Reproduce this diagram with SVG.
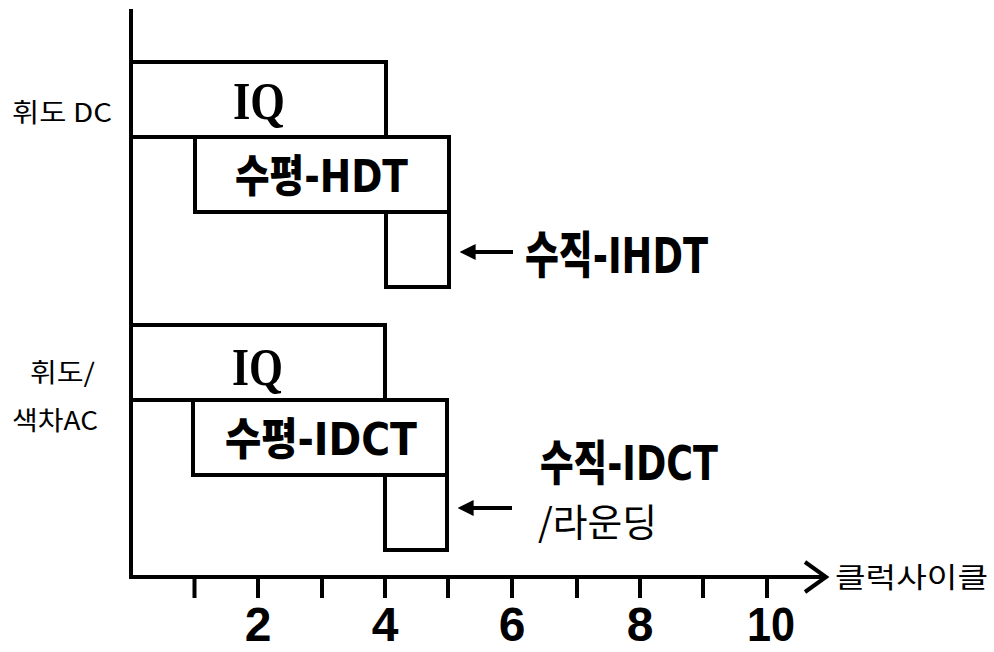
<svg xmlns="http://www.w3.org/2000/svg" width="994" height="652" viewBox="0 0 994 652">
<style>
.box{fill:none;stroke:#000;stroke-width:4}
.ln{stroke:#000;stroke-width:4;fill:none}
.lb{font-family:"DejaVu Sans","Noto Sans CJK KR",sans-serif;font-weight:900;fill:#000}
.sr{font-family:"Liberation Serif","DejaVu Serif",serif;font-weight:bold;fill:#000}
.th{font-family:"Noto Sans CJK KR","Liberation Sans",sans-serif;font-weight:normal;fill:#000}
.num{font-family:"Liberation Sans",sans-serif;font-weight:bold;font-size:48px;text-anchor:middle;fill:#000}
</style>
<defs>
<marker id="ah" viewBox="0 0 10 10" refX="1" refY="5" markerWidth="4" markerHeight="4" orient="auto-start-reverse" markerUnits="strokeWidth">
<path d="M0,0 L10,5 L0,10 z" fill="#000"/>
</marker>
</defs>
<g id="axes">
<line class="ln" x1="131" y1="9" x2="131" y2="579"/>
<line class="ln" x1="129" y1="577" x2="826" y2="577"/>
<polyline class="ln" points="805,562 826,577 805,592"/>
<g class="ln">
<line x1="194.5" y1="577" x2="194.5" y2="598"/>
<line x1="258" y1="577" x2="258" y2="598"/>
<line x1="322" y1="577" x2="322" y2="598"/>
<line x1="385" y1="577" x2="385" y2="598"/>
<line x1="448" y1="577" x2="448" y2="598"/>
<line x1="512" y1="577" x2="512" y2="598"/>
<line x1="577" y1="577" x2="577" y2="598"/>
<line x1="640" y1="577" x2="640" y2="598"/>
<line x1="703" y1="577" x2="703" y2="598"/>
<line x1="767" y1="577" x2="767" y2="598"/>
</g>
<text class="num" x="258" y="641">2</text>
<text class="num" x="385" y="641">4</text>
<text class="num" x="512" y="641">6</text>
<text class="num" x="640" y="641">8</text>
<text class="num" x="771" y="641" textLength="48" lengthAdjust="spacingAndGlyphs">10</text>
<text class="th" x="835" y="588" font-size="28" textLength="153" lengthAdjust="spacingAndGlyphs">클럭사이클</text>
</g>
<g id="label-dc">
<text class="th" x="12" y="122" font-size="26" textLength="100" lengthAdjust="spacingAndGlyphs">휘도 DC</text>
</g>
<g id="label-ac">
<text class="th" x="30" y="382" font-size="26" textLength="65" lengthAdjust="spacingAndGlyphs">휘도/</text>
<text class="th" x="12" y="430" font-size="26" textLength="86" lengthAdjust="spacingAndGlyphs">색차AC</text>
</g>
<g id="dc-iq">
<rect class="box" x="131" y="62" width="255" height="75"/>
<text class="sr" x="233" y="119" font-size="53" textLength="52" lengthAdjust="spacingAndGlyphs">IQ</text>
</g>
<g id="dc-hdt">
<rect class="box" x="195" y="137" width="254" height="75"/>
<text class="lb" x="235" y="192" font-size="44" textLength="173" lengthAdjust="spacingAndGlyphs">수평-HDT</text>
</g>
<g id="dc-vert">
<rect class="box" x="386" y="212" width="63" height="75"/>
</g>
<g id="dc-vert-label">
<text class="lb" x="525" y="273" font-size="50" textLength="183" lengthAdjust="spacingAndGlyphs">수직-IHDT</text>
</g>
<g id="ac-iq">
<rect class="box" x="131" y="325" width="254" height="75"/>
<text class="sr" x="232" y="385" font-size="53" textLength="51" lengthAdjust="spacingAndGlyphs">IQ</text>
</g>
<g id="ac-idct">
<rect class="box" x="193" y="400" width="254" height="75"/>
<text class="lb" x="225" y="455" font-size="44" textLength="192" lengthAdjust="spacingAndGlyphs">수평-IDCT</text>
</g>
<g id="ac-vert">
<rect class="box" x="385" y="475" width="62" height="75"/>
</g>
<g id="ac-vert-label">
<text class="lb" x="540" y="480" font-size="48" textLength="178" lengthAdjust="spacingAndGlyphs">수직-IDCT</text>
<text class="th" x="538" y="536" font-size="38" textLength="119" lengthAdjust="spacingAndGlyphs">/라운딩</text>
</g>
<g id="connectors">
<line class="ln" x1="513" y1="252" x2="474" y2="252" marker-end="url(#ah)"/>
<line class="ln" x1="512" y1="508" x2="472" y2="508" marker-end="url(#ah)"/>
</g>
</svg>
